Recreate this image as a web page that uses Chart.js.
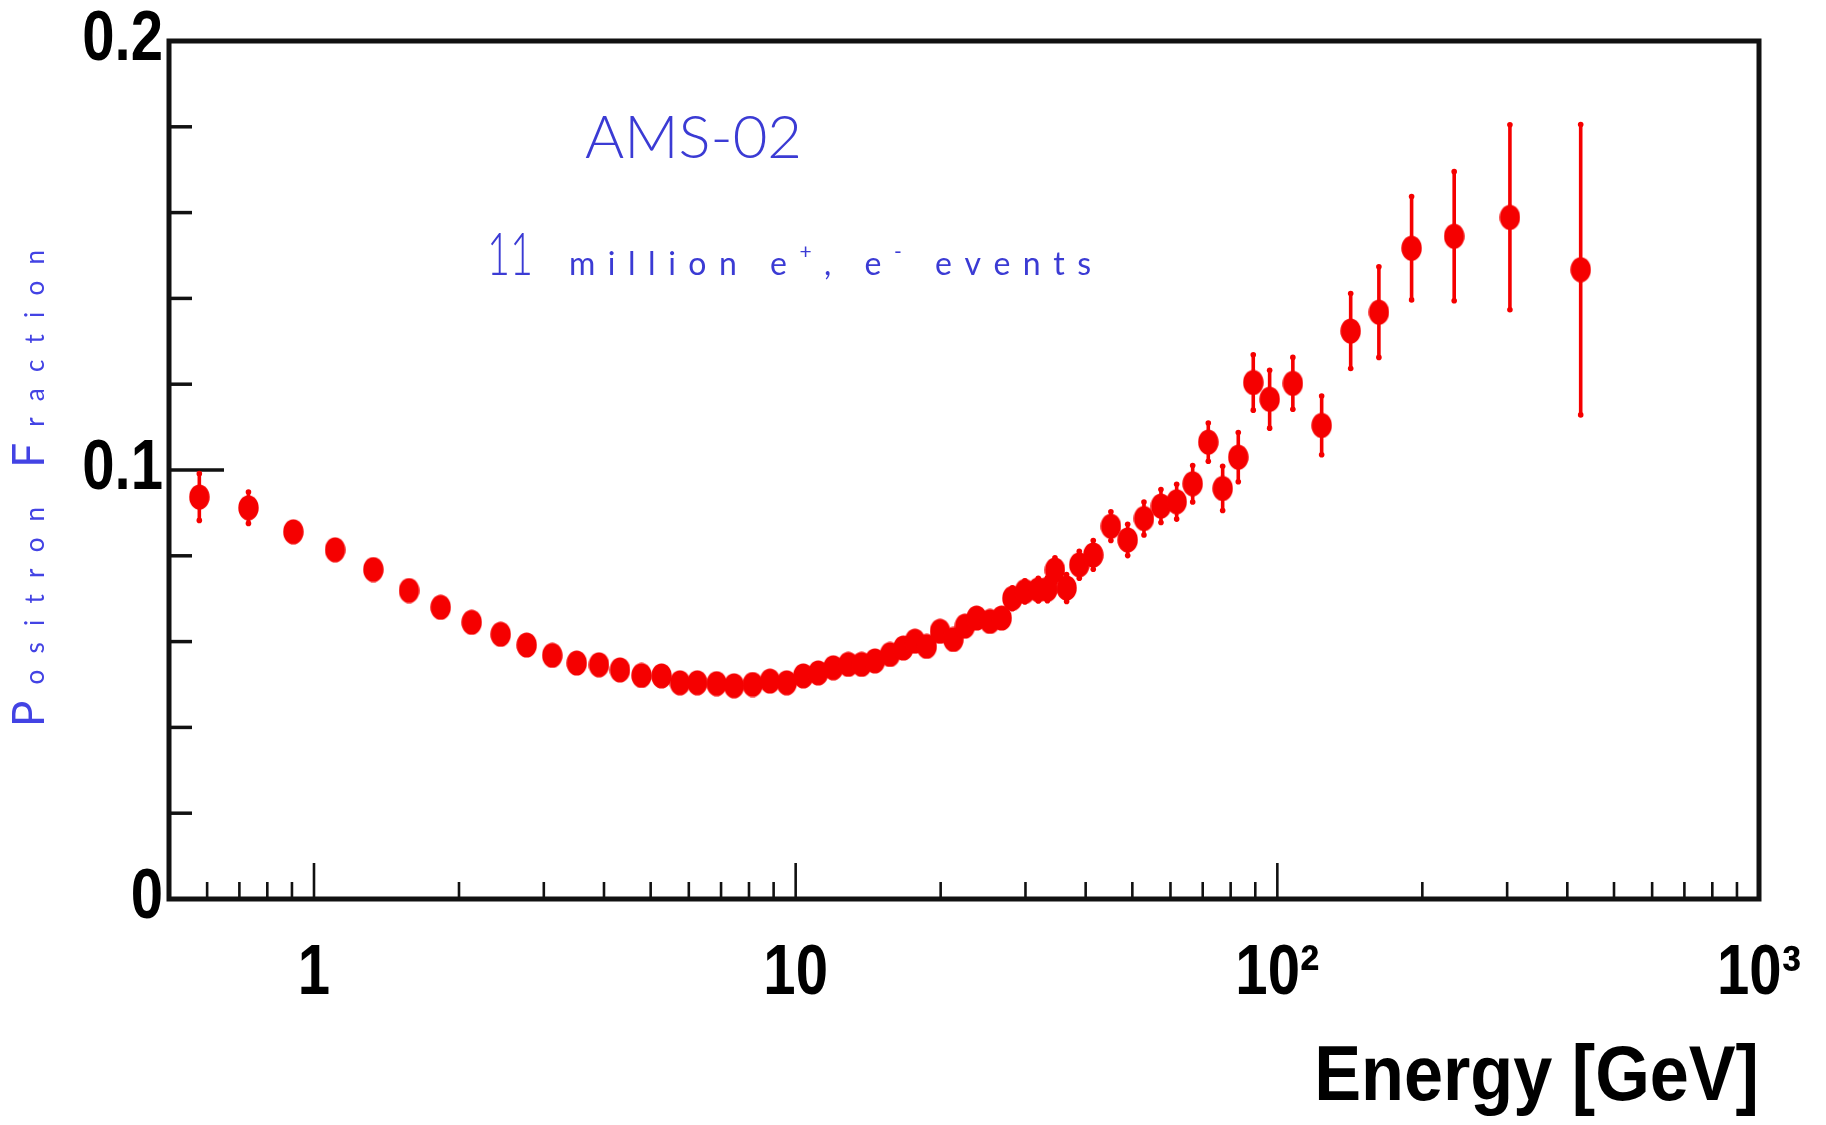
<!DOCTYPE html>
<html>
<head>
<meta charset="utf-8">
<script src="https://cdn.jsdelivr.net/npm/chart.js@4.4.0/dist/chart.umd.min.js"></script>
<style>
  html, body { margin: 0; padding: 0; background: #ffffff; }
  #wrap { width: 1826px; height: 1125px; }
</style>
</head>
<body>
<div id="wrap"><canvas id="c" width="1826" height="1125"></canvas></div>
<script>
// ---------------- data ----------------
const energy = [0.578, 0.731, 0.906, 1.106, 1.328, 1.575, 1.832, 2.125, 2.441, 2.764,
  3.124, 3.511, 3.905, 4.318, 4.786, 5.266, 5.752, 6.248, 6.855, 7.447,
  8.142, 8.845, 9.58, 10.37, 11.14, 11.97, 12.86, 13.71, 14.61, 15.70,
  16.73, 17.69, 18.71, 19.94, 21.25, 22.46, 23.75, 25.32, 26.77, 28.18,
  29.92, 31.89, 33.32, 34.54, 36.52, 38.80, 41.48, 45.13, 48.90, 52.86,
  57.33, 61.80, 66.72, 71.89, 77.00, 82.97, 89.13, 96.39, 107.7, 123.6,
  142.0, 162.5, 190.0, 232.9, 304.0, 426.4];

const positronFraction = [0.0937, 0.0912, 0.0856, 0.0814, 0.0768, 0.0719, 0.0680, 0.0645, 0.0617, 0.0592,
  0.0568, 0.0550, 0.0546, 0.0534, 0.0521, 0.0520, 0.0504, 0.0504, 0.0502, 0.0497,
  0.0500, 0.0508, 0.0504, 0.0520, 0.0527, 0.0539, 0.0547, 0.0547, 0.0555, 0.0570,
  0.0585, 0.0601, 0.0589, 0.0624, 0.0605, 0.0636, 0.0655, 0.0647, 0.0655, 0.0701,
  0.0717, 0.0721, 0.0722, 0.0767, 0.0725, 0.0779, 0.0802, 0.0869, 0.0837, 0.0887,
  0.0916, 0.0926, 0.0968, 0.1065, 0.0957, 0.1030, 0.1204, 0.1165, 0.1202, 0.1104,
  0.1324, 0.1368, 0.1517, 0.1545, 0.1589, 0.1467];

const fractionError = [0.0058, 0.0040, 0.0015, 0.0012, 0.0010, 0.0009, 0.0008, 0.0007, 0.0007, 0.0007,
  0.0007, 0.0007, 0.0007, 0.0007, 0.0007, 0.0007, 0.0007, 0.0007, 0.0007, 0.0007,
  0.0008, 0.0008, 0.0009, 0.0009, 0.0010, 0.0010, 0.0011, 0.0011, 0.0012, 0.0012,
  0.0013, 0.0014, 0.0015, 0.0016, 0.0017, 0.0018, 0.0019, 0.0021, 0.0023, 0.0028,
  0.0028, 0.0030, 0.0030, 0.0032, 0.0035, 0.0035, 0.0037, 0.0037, 0.0040, 0.0042,
  0.0042, 0.0044, 0.0046, 0.0048, 0.0055, 0.0061, 0.0068, 0.0071, 0.0064, 0.0072,
  0.0091, 0.0109, 0.0124, 0.0154, 0.0219, 0.0342];

const xMajorTicks = [1, 10, 100, 1000];
const xTickLabels = ['1', '10', '10\u00B2', '10\u00B3'];
const xMinorTicks = [0.6, 0.7, 0.8, 0.9, 2, 3, 4, 5, 6, 7, 8, 9,
  20, 30, 40, 50, 60, 70, 80, 90, 200, 300, 400, 500, 600, 700, 800, 900];
const yMajorTicks = [0, 0.1, 0.2];
const yTickLabels = ['0', '0.1', '0.2'];
const yMinorTicks = [0.02, 0.04, 0.06, 0.08, 0.12, 0.14, 0.16, 0.18];

const xTitle = 'Energy [GeV]';
const yTitleParts = ['P', 'ositron', ' ', 'F', 'raction'];
const experimentLabel = 'AMS-02';
const eventsNumber = '11';
const eventsParts = ['million e', '+', ', e', '-', ' events'];

// ---------------- styling helpers ----------------
const BOLDFONT = '"Liberation Sans", Arial, Helvetica, sans-serif';
const LIGHT = 'Lato, "Open Sans", "DejaVu Sans", sans-serif';
const RED = '#f50000';
const BLUE = '#3b3bd4';
const TICK_SQUEEZE = 0.83;   // condensed look of the axis numbers
const TITLE_SQUEEZE = 0.90;

// elliptical marker
const marker = document.createElement('canvas');
marker.width = 21; marker.height = 26;
(function () {
  const m = marker.getContext('2d');
  m.fillStyle = RED;
  m.beginPath();
  m.ellipse(10.5, 13, 10.2, 12.6, 0, 0, Math.PI * 2);
  m.fill();
})();

function drawSpaced(ctx, segs, x0, y0, targetWidth) {
  let natural = 0, count = 0;
  segs.forEach(s => {
    ctx.font = `${s.weight || 400} ${s.size}px ${LIGHT}`;
    for (const ch of s.text) { natural += ctx.measureText(ch).width; count++; }
  });
  const ls = (targetWidth - natural) / Math.max(count - 1, 1);
  let x = x0;
  segs.forEach(s => {
    ctx.font = `${s.weight || 400} ${s.size}px ${LIGHT}`;
    for (const ch of s.text) {
      ctx.fillText(ch, x, y0 + (s.dy || 0));
      x += ctx.measureText(ch).width + ls;
    }
  });
}

function drawFit(ctx, text, font, x, y, targetWidth) {
  ctx.font = font;
  const w = ctx.measureText(text).width;
  ctx.save();
  ctx.translate(x, y);
  ctx.scale(targetWidth / w, 1);
  ctx.fillText(text, 0, 0);
  ctx.restore();
}

// condensed rendering of the library's own tick labels and axis title
const condensedText = {
  id: 'condensedText',
  afterLayout(chart) {
    Object.values(chart.scales).forEach(scale => {
      if (scale._condensed) return;
      scale._condensed = true;
      scale.drawLabels = function (chartArea) {
        if (!this.options.ticks.display) return;
        const ctx = this.ctx;
        const items = this.getLabelItems(chartArea);
        for (const item of items) {
          const o = item.options;
          ctx.save();
          ctx.translate(o.translation[0], o.translation[1]);
          if (o.rotation) ctx.rotate(o.rotation);
          ctx.scale(TICK_SQUEEZE, 1);
          ctx.font = item.font.string;
          ctx.fillStyle = o.color;
          ctx.textAlign = o.textAlign;
          ctx.textBaseline = o.textBaseline;
          ctx.fillText(item.label, 0, item.textOffset);
          ctx.restore();
        }
      };
      scale.drawTitle = function () {
        const t = this.options.title;
        if (!t.display) return;
        const ctx = this.ctx;
        const font = Chart.helpers.toFont(t.font);
        const pad = Chart.helpers.toPadding(t.padding);
        ctx.save();
        ctx.translate(this.right, this.bottom - pad.bottom - font.lineHeight / 2);
        ctx.scale(TITLE_SQUEEZE, 1);
        ctx.font = font.string;
        ctx.fillStyle = t.color;
        ctx.textAlign = 'right';
        ctx.textBaseline = 'middle';
        ctx.fillText(t.text, 0, 0);
        ctx.restore();
      };
    });
  }
};

// frame + inward ticks (ROOT style), drawn through the chart scales
const framePlugin = {
  id: 'frame',
  beforeDatasetsDraw(chart) {
    const { ctx, chartArea: a, scales: { x, y } } = chart;
    ctx.save();
    ctx.strokeStyle = '#111';
    ctx.lineCap = 'butt';
    const tick = (px1, py1, px2, py2) => { ctx.beginPath(); ctx.moveTo(px1, py1); ctx.lineTo(px2, py2); ctx.stroke(); };
    ctx.lineWidth = 2.6;
    xMajorTicks.forEach(v => { const p = x.getPixelForValue(v); tick(p, a.bottom, p, a.bottom - 36); });
    xMinorTicks.forEach(v => { const p = x.getPixelForValue(v); tick(p, a.bottom, p, a.bottom - 17); });
    ctx.lineWidth = 3.5;
    yMajorTicks.forEach(v => { const p = y.getPixelForValue(v); tick(a.left, p, a.left + 55, p); });
    yMinorTicks.forEach(v => { const p = y.getPixelForValue(v); tick(a.left, p, a.left + 23, p); });
    ctx.lineWidth = 5;
    ctx.strokeRect(a.left, a.top, a.right - a.left, a.bottom - a.top);
    ctx.restore();
  }
};

// vertical error bars from the data arrays
const errorBarPlugin = {
  id: 'errorBars',
  beforeDatasetsDraw(chart) {
    const { ctx, scales: { x, y } } = chart;
    ctx.save();
    ctx.strokeStyle = RED;
    ctx.fillStyle = RED;
    ctx.lineWidth = 3.6;
    energy.forEach((e, i) => {
      const px = x.getPixelForValue(e);
      const yHi = y.getPixelForValue(positronFraction[i] + fractionError[i]);
      const yLo = y.getPixelForValue(positronFraction[i] - fractionError[i]);
      ctx.beginPath(); ctx.moveTo(px, yHi); ctx.lineTo(px, yLo); ctx.stroke();
      ctx.beginPath(); ctx.arc(px, yHi + 1.5, 2.8, 0, Math.PI * 2); ctx.fill();
      ctx.beginPath(); ctx.arc(px, yLo - 1.5, 2.8, 0, Math.PI * 2); ctx.fill();
    });
    ctx.restore();
  }
};

// blue texts: y title and the annotation
const textPlugin = {
  id: 'texts',
  afterDraw(chart) {
    const { ctx } = chart;
    ctx.save();
    ctx.textBaseline = 'alphabetic';
    ctx.textAlign = 'left';
    ctx.fillStyle = '#4343e4';
    ctx.save();
    ctx.translate(44, 0);
    ctx.rotate(-Math.PI / 2);
    drawSpaced(ctx, [
      { text: yTitleParts[0], size: 44 },
      { text: yTitleParts[1], size: 26 },
      { text: yTitleParts[2], size: 26 },
      { text: yTitleParts[3], size: 44 },
      { text: yTitleParts[4], size: 26 }
    ], -727, 0, 477);
    ctx.restore();
    ctx.fillStyle = BLUE;
    drawFit(ctx, experimentLabel, `300 60px ${LIGHT}`, 585, 158, 217);
    drawFit(ctx, eventsNumber, `300 60px ${LIGHT}`, 487, 275, 46);
    drawSpaced(ctx, [
      { text: eventsParts[0], size: 32 },
      { text: eventsParts[1], size: 21, dy: -16 },
      { text: eventsParts[2], size: 32 },
      { text: eventsParts[3], size: 21, dy: -16 },
      { text: eventsParts[4], size: 32 }
    ], 569, 275, 522);
    ctx.restore();
  }
};

new Chart(document.getElementById('c'), {
  type: 'scatter',
  data: {
    datasets: [{
      data: energy.map((e, i) => ({ x: e, y: positronFraction[i] })),
      pointStyle: marker,
      pointRadius: 11,
      backgroundColor: RED,
      borderColor: RED,
      showLine: false
    }]
  },
  options: {
    responsive: false,
    devicePixelRatio: 1,
    animation: false,
    layout: { padding: { top: 37, right: 67, left: 0, bottom: 0 } },
    plugins: { legend: { display: false }, tooltip: { enabled: false } },
    scales: {
      x: {
        type: 'logarithmic',
        min: 0.5, max: 1000,
        afterBuildTicks: s => { s.ticks = xMajorTicks.map(v => ({ value: v })); },
        afterFit: s => { s.height = 226; },
        grid: { display: false, drawTicks: false },
        border: { display: false },
        ticks: {
          autoSkip: false, maxRotation: 0, minRotation: 0, padding: 0,
          color: '#000',
          font: { family: BOLDFONT, size: 70, weight: 'bold', lineHeight: 2.17 },
          callback: (v, i) => xTickLabels[i]
        },
        title: {
          display: true, text: xTitle, align: 'end', color: '#000',
          font: { family: BOLDFONT, size: 78, weight: 'bold', lineHeight: 1 },
          padding: { top: 0, bottom: 8 }
        }
      },
      y: {
        type: 'linear',
        min: 0, max: 0.2,
        afterBuildTicks: s => { s.ticks = yMajorTicks.map(v => ({ value: v })); },
        afterFit: s => { s.width = 169; },
        grid: { display: false, drawTicks: false },
        border: { display: false },
        ticks: {
          padding: 6, color: '#000',
          font: { family: BOLDFONT, size: 70, weight: 'bold', lineHeight: 1 },
          callback: (v, i) => yTickLabels[i]
        }
      }
    }
  },
  plugins: [condensedText, framePlugin, errorBarPlugin, textPlugin]
});
</script>
</body>
</html>
